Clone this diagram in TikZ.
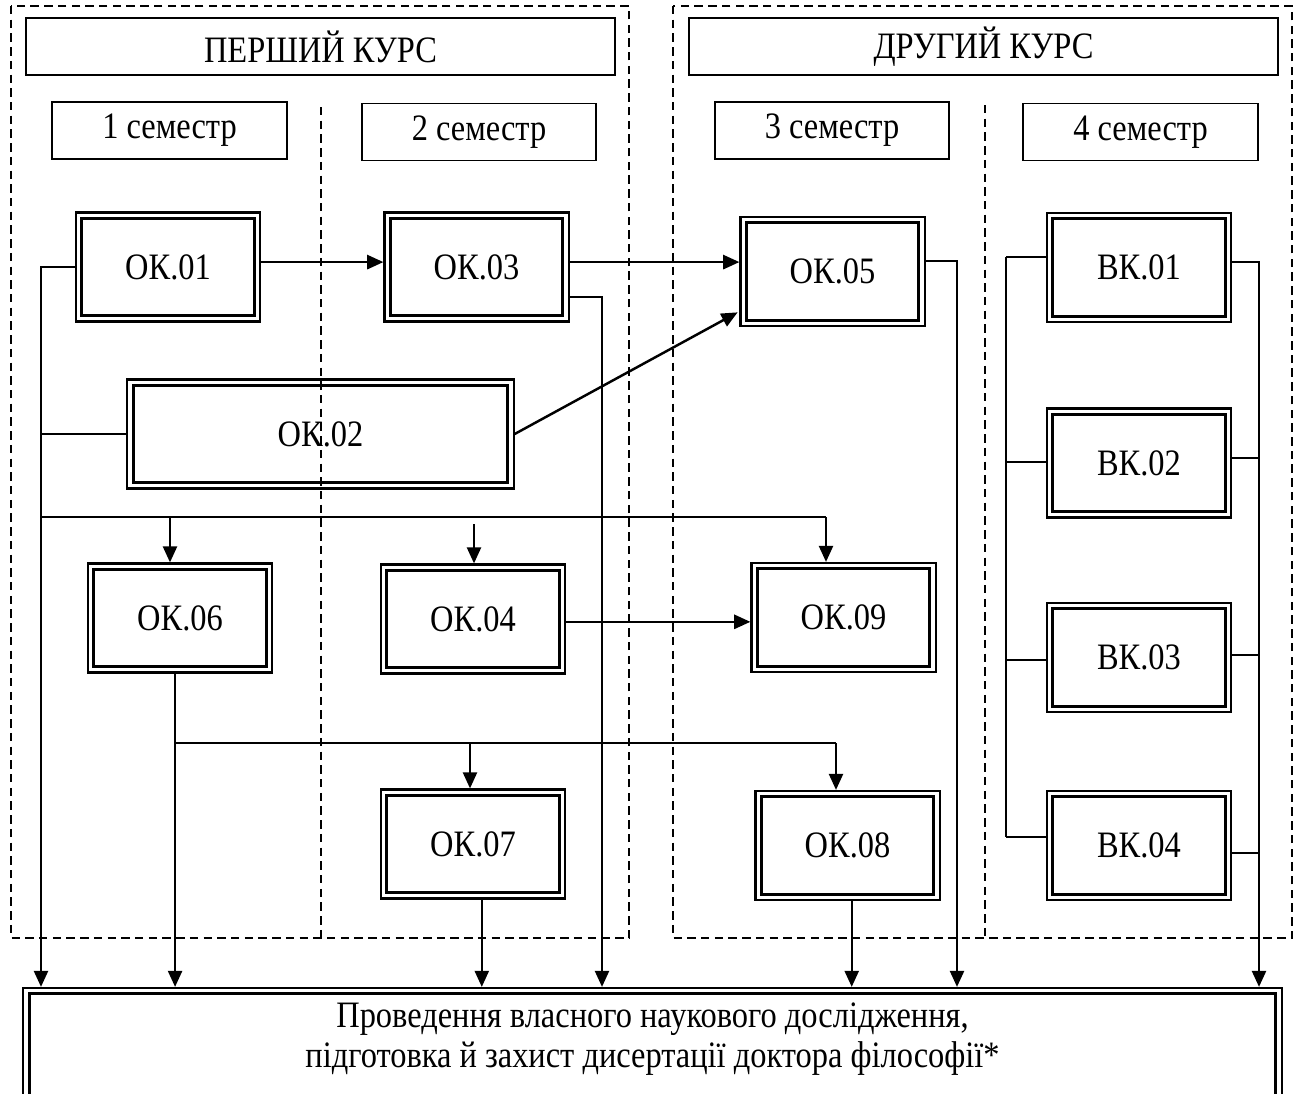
\documentclass[tikz,border=0pt]{standalone}
\usepackage{fontspec}
\setmainfont{Liberation Serif}[FakeStretch=0.87]
\usetikzlibrary{arrows.meta,calc}
\tikzset{
  fs/.style={font=\fontsize{10.6pt}{11.2pt}\selectfont},
  dbox/.style={fs, draw, line width=0.6pt, inner sep=0pt,
    minimum width=1.84cm, minimum height=1.09cm,
    path picture={\draw[line width=0.85pt]
      ([shift={(1.7pt,-1.7pt)}]path picture bounding box.north west) rectangle
      ([shift={(-1.7pt,1.7pt)}]path picture bounding box.south east);}},
  hbox/.style={fs, draw, line width=0.55pt, inner sep=0pt, minimum height=0.57cm},
  frame/.style={line width=0.45pt, dash pattern=on 2.4pt off 1.5pt},
  ln/.style={line width=0.6pt},
  thin/.style={line width=0.5pt},
  arr/.style={line width=0.7pt, -{Triangle[length=4.6pt,width=4pt]}}
}
\begin{document}
\begin{tikzpicture}[x=0.01cm,y=-0.01cm]
\useasboundingbox (0,0) rectangle (1300,1093);
% dashed frames
\draw[frame] (11,6) rectangle (629,938);
\draw[frame] (673,6) rectangle (1292,938);
\draw[frame] (321,107) -- (321,938);
\draw[frame] (985,105) -- (985,938);
% headers
\node[hbox, minimum width=5.89cm] (h1) at (320.5,46.5) {ПЕРШИЙ КУРС};
\node[hbox, minimum width=5.89cm] (h2) at (983.5,46.5) {ДРУГИЙ КУРС};
\node[hbox, minimum width=2.35cm] (s1) at (169.5,130.5) {1 семестр};
\node[hbox, minimum width=2.34cm] (s2) at (479,132) {2 семестр};
\node[hbox, minimum width=2.34cm] (s3) at (832,130.5) {3 семестр};
\node[hbox, minimum width=2.35cm] (s4) at (1140.5,132) {4 семестр};
% course boxes
\node[dbox] (ok01) at (168,267) {ОК.01};
\node[dbox] (ok03) at (476.5,267) {ОК.03};
\node[dbox] (ok05) at (832.5,271.5) {ОК.05};
\node[dbox, minimum width=3.86cm] (ok02) at (320.5,434) {ОК.02};
\node[dbox] (ok06) at (180,618) {ОК.06};
\node[dbox] (ok04) at (473,619) {ОК.04};
\node[dbox] (ok09) at (843.5,617.5) {ОК.09};
\node[dbox] (ok07) at (473,844) {ОК.07};
\node[dbox] (ok08) at (847.5,845.5) {ОК.08};
\node[dbox] (bk01) at (1139,267.5) {ВК.01};
\node[dbox] (bk02) at (1139,463) {ВК.02};
\node[dbox] (bk03) at (1139,657.5) {ВК.03};
\node[dbox] (bk04) at (1139,845.5) {ВК.04};
% final box
\node[dbox, minimum width=12.58cm, minimum height=1.24cm] (final) at (652.5,1050) {};
\node[fs, align=center, inner sep=0pt] (finaltext) at (652.5,1039)
  {Проведення власного наукового дослідження,\\ підготовка й захист дисертації доктора філософії*};
% coordinates
\coordinate (t1) at (41,267);
\coordinate (t2) at (41,434);
\coordinate (b0) at (41,517);
\coordinate (b6) at (170,517);
\coordinate (b4s) at (474,524);
\coordinate (b9) at (826,517);
\coordinate (c0) at (175,743);
\coordinate (c7) at (470,743);
\coordinate (c8) at (836,743);
\coordinate (r3a) at (570,297);
\coordinate (r3) at (602,297);
\coordinate (r5) at (957,261);
\coordinate (lb1) at (1006,257);
\coordinate (lb2) at (1006,462);
\coordinate (lb3) at (1006,660);
\coordinate (lb4) at (1006,837);
\coordinate (rb1) at (1259,262);
\coordinate (rb2) at (1259,458);
\coordinate (rb3) at (1259,655);
\coordinate (rb4) at (1259,853);
% connectors
\draw[arr] ([yshift=1.4pt]ok01.east) -- ([yshift=1.4pt]ok01.east -| ok03.west);
\draw[arr] ([yshift=1.4pt]ok03.east) -- ([yshift=1.4pt]ok03.east -| ok05.west);
\draw[arr] (ok02.east) -- ([xshift=-0.5pt,yshift=4.2pt]ok05.south west);
\draw[arr] (ok01.west) -- (t1) -- (t1 |- final.north);
\draw[ln] (ok02.west) -- (t2);
\draw[thin] (b0) -- (b9);
\draw[arr] (b9) -- (b9 |- ok09.north);
\draw[arr] (b6) -- (b6 |- ok06.north);
\draw[arr] (b4s) -- (b4s |- ok04.north);
\draw[arr] ([yshift=-0.8pt]ok04.east) -- ([yshift=-0.8pt]ok04.east -| ok09.west);
\draw[arr] ([xshift=-1.4pt]ok06.south) -- ([xshift=-1.4pt]ok06.south |- final.north);
\draw[thin] (c0) -- (c8);
\draw[arr] (c8) -- (c8 |- ok08.north);
\draw[arr] (c7) -- (c7 |- ok07.north);
\draw[arr] ([xshift=2.5pt]ok07.south) -- ([xshift=2.5pt]ok07.south |- final.north);
\draw[arr] ([xshift=1.2pt]ok08.south) -- ([xshift=1.2pt]ok08.south |- final.north);
\draw[arr] (r3a) -- (r3) -- (r3 |- final.north);
\draw[arr] (ok05.east |- r5) -- (r5) -- (r5 |- final.north);
% elective block
\draw[ln] (lb1) -- (lb4);
\draw[ln] (lb1) -- (lb1 -| bk01.west);
\draw[ln] (lb2) -- (lb2 -| bk02.west);
\draw[ln] (lb3) -- (lb3 -| bk03.west);
\draw[ln] (lb4) -- (lb4 -| bk04.west);
\draw[arr] (rb1 -| bk01.east) -- (rb1) -- (rb1 |- final.north);
\draw[ln] (rb2 -| bk02.east) -- (rb2);
\draw[ln] (rb3 -| bk03.east) -- (rb3);
\draw[ln] (rb4 -| bk04.east) -- (rb4);
\end{tikzpicture}
\end{document}
